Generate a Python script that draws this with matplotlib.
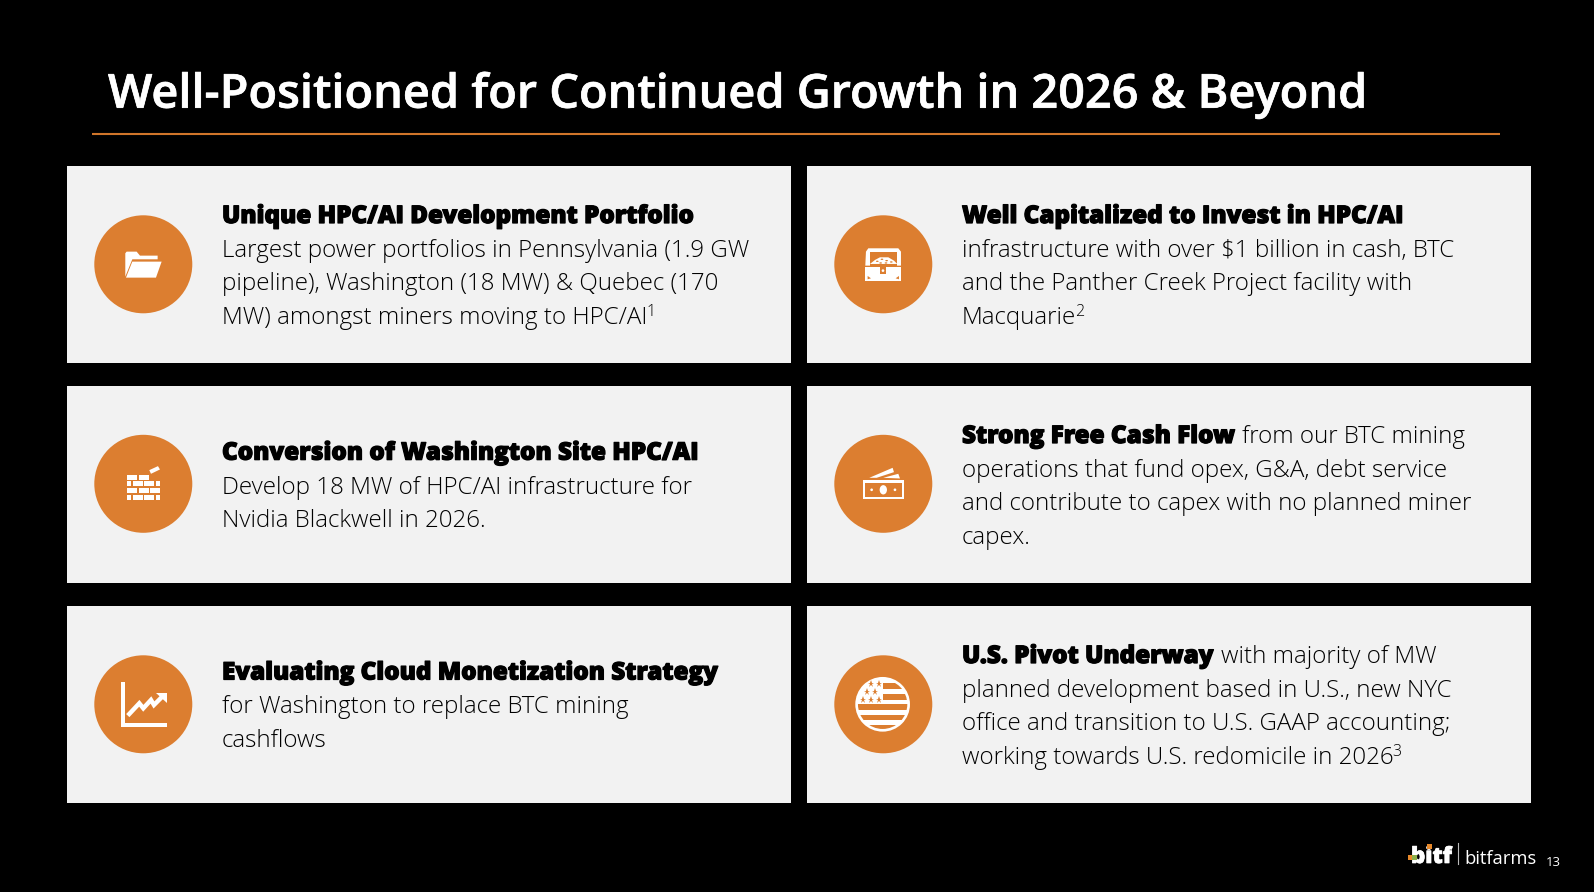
import matplotlib
matplotlib.use("Agg")
import matplotlib.pyplot as plt
import matplotlib.patheffects as pe
from matplotlib.patches import Rectangle, Circle, Polygon, Ellipse

W, H = 1594, 892
BG = "#000000"; CARD = "#F2F2F2"; ORANGE = "#DC7E30"; RULE = "#D0752A"

title_text = "Well-Positioned for Continued Growth in 2026 & Beyond"

# each line: list of (text, style); style H heavy, B body, S superscript
card_lines = [
    [[("Unique HPC/AI Development Portfolio", "H")],
     [("Largest power portfolios in Pennsylvania (1.9 GW", "B")],
     [("pipeline), Washington (18 MW) & Quebec (170", "B")],
     [("MW) amongst miners moving to HPC/AI", "B"), ("1", "S")]],
    [[("Well Capitalized to Invest in HPC/AI", "H")],
     [("infrastructure with over \\$1 billion in cash, BTC", "B")],
     [("and the Panther Creek Project facility with", "B")],
     [("Macquarie", "B"), ("2", "S")]],
    [[("Conversion of Washington Site HPC/AI", "H")],
     [("Develop 18 MW of HPC/AI infrastructure for", "B")],
     [("Nvidia Blackwell in 2026.", "B")]],
    [[("Strong Free Cash Flow", "H"), (" from our BTC mining", "B")],
     [("operations that fund opex, G&A, debt service", "B")],
     [("and contribute to capex with no planned miner", "B")],
     [("capex.", "B")]],
    [[("Evaluating Cloud Monetization Strategy", "H")],
     [("for Washington to replace BTC mining", "B")],
     [("cashflows", "B")]],
    [[("U.S. Pivot Underway", "H"), (" with majority of MW", "B")],
     [("planned development based in U.S., new NYC", "B")],
     [("office and transition to U.S. GAAP accounting;", "B")],
     [("working towards U.S. redomicile in 2026", "B"), ("3", "S")]],
]
card_baselines = [
    [223, 257, 290, 324], [223, 257, 290, 324],
    [459.7, 494, 527],
    [443, 476.8, 510.3, 543.8],
    [679.5, 713, 746.8],
    [663, 696.8, 730.3, 764],
]
card_x = [67, 807, 67, 807, 67, 807]
card_y = [166, 166, 385.5, 385.5, 606, 606]
card_w, card_h = 724, 197
icon_names = ["folder", "chest", "bricks", "money", "chart", "flag"]

STYLES = {
    "H": dict(family="Open Sans", weight=800, size=17.45),
    "B": dict(family="Open Sans", weight=300, size=17.4),
    "S": dict(family="Open Sans", weight=300, size=11.5),
}

fig = plt.figure(figsize=(W / 100, H / 100), dpi=100, facecolor=BG)
ax = fig.add_axes([0, 0, 1, 1])
ax.set_xlim(0, W); ax.set_ylim(H, 0); ax.axis("off")
ax.add_patch(Rectangle((0, 0), W, H, color=BG, zorder=0))


def icon(name, cx, cy):
    ax.add_patch(Circle((cx, cy), 49, color=ORANGE, lw=0, zorder=2))
    if name == "folder":
        ox, oy = 250, 313
    else:
        ox, oy = 190, 193
    P = lambda x, y: (cx + (x - ox) / 3, cy + (y - oy) / 3)
    def poly(pts, c="white", z=3):
        ax.add_patch(Polygon([P(*p) for p in pts], closed=True, color=c, lw=0, zorder=z))
    def rect(x0, y0, x1, y1, c="white", z=3):
        poly([(x0, y0), (x1, y0), (x1, y1), (x0, y1)], c, z)
    def ell(x, y, rx, ry, c="white", z=3):
        ax.add_patch(Ellipse(P(x, y), 2 * rx / 3, 2 * ry / 3, color=c, lw=0, zorder=z))

    if name == "folder":
        poly([(196, 280), (200, 275), (230, 275), (240, 287), (293, 287), (293, 298),
              (217, 298), (196, 350)])
        poly([(217, 305), (305, 305), (288, 353), (198, 353)])
    elif name == "chest":
        poly([(138, 155), (145, 145), (235, 145), (243, 155), (243, 197), (136, 197)])
        poly([(150, 156), (232, 156), (232, 197), (150, 197)], ORANGE, 4)
        poly([(150, 192), (165, 180), (180, 172), (205, 172), (222, 182), (232, 192)], "white", 5)
        for x, y in [(172, 184), (186, 178), (200, 182), (214, 186), (182, 189), (198, 189)]:
            ell(x, y, 4, 2, ORANGE, 6)
        rect(136, 202, 243, 243)
        rect(181, 202, 197, 221, ORANGE, 4)
        ell(189, 212, 4, 4, "white", 5)
        poly([(143, 228), (153, 235), (143, 238)], ORANGE, 4)
        poly([(237, 228), (227, 235), (237, 238)], ORANGE, 4)
    elif name == "bricks":
        rows = [(166, 181, [(142, 172), (176, 206)]),
                (186, 201, [(142, 154), (159, 189), (193, 223), (228, 240)]),
                (206, 221, [(142, 172), (176, 206), (210, 240)]),
                (226, 241, [(142, 154), (159, 189), (193, 223), (228, 240)])]
        for y0, y1, segs in rows:
            for x0, x1 in segs:
                rect(x0, y0, x1, y1)
        poly([(208, 152), (234, 140), (240, 150), (213, 163)])
    elif name == "money":
        poly([(148, 175), (218, 145), (222, 158), (170, 175)])
        poly([(190, 175), (235, 163), (240, 177), (240, 177)])
        rect(128, 182, 252, 240)
        rect(135, 190, 245, 232, ORANGE, 4)
        ell(190, 211, 11, 14, "white", 5)
        ell(155, 211, 4, 4, "white", 5)
        ell(225, 211, 4, 4, "white", 5)
    elif name == "chart":
        rect(122, 125, 135, 262)
        rect(122, 250, 260, 262)
        zig = [(148, 222), (178, 190), (190, 205), (213, 180), (222, 195), (245, 172)]
        ax.plot(*zip(*[P(*p) for p in zig]), color="white", lw=3.2, solid_joinstyle="miter", zorder=3)
        poly([(228, 158), (260, 158), (260, 190)])
    elif name == "flag":
        ell(188, 193, 82, 82)
        clip = Circle(P(188, 193), 74 / 3, transform=ax.transData)
        for x0, y0, x1, y1 in [(188, 130, 270, 148), (188, 162, 270, 179), (100, 193, 280, 209),
                               (100, 225, 280, 240), (100, 255, 280, 272)]:
            p = Polygon([P(x0, y0), P(x1, y0), P(x1, y1), P(x0, y1)], closed=True,
                        color=ORANGE, lw=0, zorder=4)
            ax.add_patch(p)
            p.set_clip_path(clip)
        for x, y in [(152, 133), (176, 133), (140, 157), (164, 157), (128, 180), (152, 180), (176, 180)]:
            ax.plot(*P(x, y), marker="*", ms=5.2, color=ORANGE, mew=0, zorder=4)


fig.canvas.draw()
rend = fig.canvas.get_renderer()


def put(x, y, text, style, color="black"):
    st = STYLES[style]
    yy = y - 8 if style == "S" else y
    t = ax.text(x, yy, text, va="baseline", ha="left", color=color, zorder=6, **st)
    if style == "H":
        t.set_path_effects([pe.withStroke(linewidth=0.9, foreground=color)])
    return t.get_window_extent(rend).x1


for i in range(6):
    ax.add_patch(Rectangle((card_x[i], card_y[i]), card_w, card_h, color=CARD, lw=0, zorder=1))
    icon(icon_names[i], card_x[i] + 76.3, card_y[i] + 98.3)
    tx = card_x[i] + 155
    for line, by in zip(card_lines[i], card_baselines[i]):
        x = tx
        for text, style in line:
            if text.startswith(" "):
                x += 7
                text = text[1:]
            if style == "S":
                x -= 1
            x = put(x, by, text, style)

# header
ax.text(108, 107.7, title_text, color="white", family="Open Sans", weight=600, size=33.75,
        va="baseline", ha="left", zorder=6,
        path_effects=[pe.withStroke(linewidth=0.5, foreground="white")])
ax.plot([92.5, 1500.5], [134.3, 134.3], color=RULE, lw=1.5, solid_capstyle="butt", zorder=6)

# footer logo
ax.text(1411, 863, "bitf", color="white", family="Open Sans", weight=800,
        size=16, va="baseline", ha="left", zorder=6,
        path_effects=[pe.withStroke(linewidth=0.5, foreground="white")])
ax.add_patch(Rectangle((1408, 855), 5, 5, color="#E8892B", lw=0, zorder=7))
ax.add_patch(Rectangle((1412.3, 855), 5, 5, color="#8DB04A", lw=0, zorder=7))
ax.add_patch(Rectangle((1427.5, 844), 5, 4.5, color="#E8892B", lw=0, zorder=7))
ax.plot([1458, 1458], [843, 864], color="#BBBBBB", lw=0.8, zorder=6)
ax.text(1464, 864, "bitfarms", color="white", family="Open Sans", weight=400,
        size=13.2, va="baseline", ha="left", zorder=6)
ax.text(1546, 866, "13", color="white", family="Open Sans", weight=400, size=9.5,
        va="baseline", ha="left", zorder=6)

fig.savefig("out.png", dpi=100, facecolor=BG)
